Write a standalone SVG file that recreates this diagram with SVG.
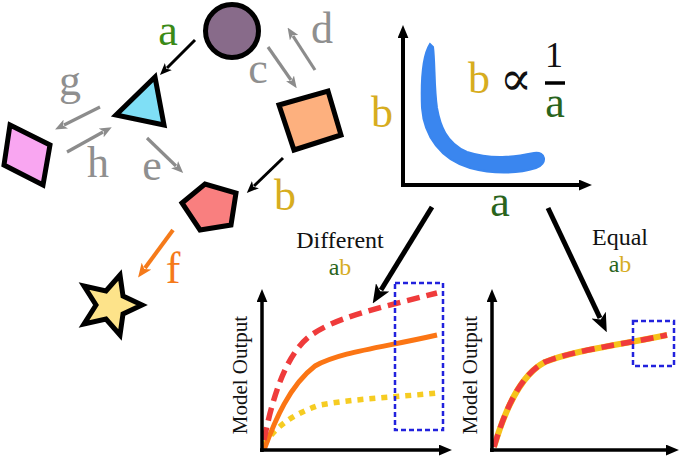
<svg xmlns="http://www.w3.org/2000/svg" width="680" height="456" viewBox="0 0 680 456">
<style>
text{font-family:'Liberation Serif',serif}
.node{stroke:#000;stroke-width:5;stroke-linejoin:miter}
.lbl{font-size:44px;text-anchor:middle}
.gray{fill:#8f8f8f}
.grn{fill:#3b8a17}
.dgrn{fill:#2a641c}
.gold{fill:#d7ad1f}
.txt{text-anchor:middle;fill:#111}
.ab{stroke:#000;stroke-width:3;fill:none}
.ag{stroke:#8c8c8c;stroke-width:3.2;fill:none}
.ax{stroke:#000;fill:none}
</style>
<defs>
<marker id="hb" viewBox="0 0 12 10" refX="2" refY="5" markerWidth="12" markerHeight="10" markerUnits="userSpaceOnUse" orient="auto"><path d="M0,0 L12,5 L0,10 L3,5 Z" fill="#000"/></marker>
<marker id="hg" viewBox="0 0 12 10" refX="2" refY="5" markerWidth="12" markerHeight="10" markerUnits="userSpaceOnUse" orient="auto"><path d="M0,0 L12,5 L0,10 L3,5 Z" fill="#8c8c8c"/></marker>
<marker id="ho" viewBox="0 0 12 10" refX="2" refY="5" markerWidth="14" markerHeight="12" markerUnits="userSpaceOnUse" orient="auto"><path d="M0,0 L12,5 L0,10 L3,5 Z" fill="#f57a1a"/></marker>
<marker id="hbig" viewBox="0 0 12 10" refX="2" refY="5" markerWidth="19" markerHeight="16" markerUnits="userSpaceOnUse" orient="auto"><path d="M0,0 L12,5 L0,10 L3,5 Z" fill="#000"/></marker>
<marker id="hax" viewBox="0 0 12 10" refX="1" refY="5" markerWidth="13" markerHeight="11" markerUnits="userSpaceOnUse" orient="auto"><path d="M0,0 L12,5 L0,10 Z" fill="#000"/></marker>
</defs>

<g id="connectors">
<line class="ab" x1="195" y1="40" x2="167" y2="68" marker-end="url(#hb)"/>
<line class="ag" x1="268" y1="47" x2="291" y2="80" marker-end="url(#hg)"/>
<line class="ag" x1="315" y1="70" x2="293" y2="36" marker-end="url(#hg)"/>
<line class="ag" x1="100" y1="107" x2="64" y2="125" marker-end="url(#hg)"/>
<line class="ag" x1="67" y1="152" x2="103" y2="132" marker-end="url(#hg)"/>
<line class="ag" x1="147" y1="138" x2="176" y2="166" marker-end="url(#hg)"/>
<line class="ab" x1="283" y1="158" x2="254" y2="186" marker-end="url(#hb)"/>
<line stroke="#f57a1a" stroke-width="4" x1="173" y1="230" x2="145" y2="268" marker-end="url(#ho)"/>
<line stroke="#000" stroke-width="5" x1="432" y1="207" x2="381" y2="290" marker-end="url(#hbig)"/>
<line stroke="#000" stroke-width="5" x1="548" y1="208" x2="600" y2="318" marker-end="url(#hbig)"/>
</g>

<g id="labels">
<text class="lbl grn" x="168" y="45">a</text>
<text class="lbl gray" x="258" y="83">c</text>
<text class="lbl gray" x="322" y="43">d</text>
<text class="lbl gray" x="70" y="95">g</text>
<text class="lbl gray" x="98" y="177">h</text>
<text class="lbl gray" x="152" y="180">e</text>
<text class="lbl gold" x="285" y="210">b</text>
<text class="lbl" x="173" y="283" fill="#f57a1a">f</text>
</g>

<g id="circle"><circle class="node" cx="232" cy="31" r="26.5" fill="#886b8a"/></g>
<g id="triangle"><polygon class="node" points="155,77 116,115 164,125" fill="#7fdff6"/></g>
<g id="square"><polygon class="node" points="279,105 328,91 341,135 294,150" fill="#fdb07e"/></g>
<g id="rhombus"><polygon class="node" points="10,125 50,145 43,185 4,165" fill="#f9a6f1"/></g>
<g id="pentagon"><polygon class="node" points="182,203 205,184 236,193 231,225 200,230" fill="#f97f7f"/></g>
<g id="star"><polygon class="node" stroke-width="5.5" stroke-linejoin="round" points="142,305 123,314 120,335 106,319 84,324 96,305 84,286 106,291 120,275 123,296" fill="#fde38a"/></g>

<g id="scatter-plot">
<path d="M430,44 C423,55 421,82 422,108 C424,136 441,160 470,168 C496,175 520,173 536,168 C548,164 546,151 534,153 C514,157 492,160 467,152 C446,143 440,125 437,108 C434,88 435,62 433,47 Z" fill="#3a86ef" stroke="#3a86ef" stroke-width="2"/>
<line class="ax" stroke-width="4" x1="403" y1="187" x2="403" y2="37" marker-end="url(#hax)"/>
<line class="ax" stroke-width="4" x1="401" y1="185" x2="580" y2="185" marker-end="url(#hax)"/>
<text class="lbl gold" x="382" y="127" font-size="46">b</text>
<text class="lbl dgrn" x="500" y="216" font-size="46">a</text>
<text class="lbl gold" x="479" y="93" font-size="36">b</text>
<text class="txt" x="516" y="95" font-size="48" style="font-family:'DejaVu Sans','DejaVu Serif',sans-serif;font-weight:200">∝</text>
<text class="txt" x="554" y="67" font-size="36">1</text>
<line x1="545" y1="83" x2="565" y2="83" stroke="#000" stroke-width="3.5"/>
<text class="lbl dgrn" x="555" y="117" font-size="40">a</text>
</g>

<g id="different-plot">
<text class="txt" x="340" y="248" font-size="24">Different</text>
<text class="txt" x="340" y="275" font-size="24"><tspan fill="#2a641c">a</tspan><tspan fill="#d7ad1f">b</tspan></text>
<path d="M264,445 C275,428 290,415 320,405 C360,398 400,397 437,393" fill="none" stroke="#f6cc22" stroke-width="5.5" stroke-dasharray="6,6"/>
<path d="M264,450 C275,420 290,385 315,366 C340,352 380,348 437,335" fill="none" stroke="#fb7514" stroke-width="5"/>
<path d="M264,440 C272,400 285,355 310,336 C335,318 370,310 437,293" fill="none" stroke="#ef3b3b" stroke-width="5.5" stroke-dasharray="13,7"/>
<rect x="395" y="283" width="48" height="147" fill="none" stroke="#2222dd" stroke-width="2.5" stroke-dasharray="5,3"/>
<line class="ax" stroke-width="3.5" x1="262" y1="452" x2="262" y2="301" marker-end="url(#hax)"/>
<line class="ax" stroke-width="3.5" x1="260" y1="450" x2="440" y2="450" marker-end="url(#hax)"/>
<text class="txt" transform="translate(247,375) rotate(-90)" font-size="21">Model Output</text>
</g>

<g id="equal-plot">
<text class="txt" x="620" y="245" font-size="24">Equal</text>
<text class="txt" x="620" y="272" font-size="24"><tspan fill="#2a641c">a</tspan><tspan fill="#d7ad1f">b</tspan></text>
<path d="M494,447 C505,410 520,375 545,362 C575,350 620,345 667,335" fill="none" stroke="#f6c21a" stroke-width="6"/>
<path d="M494,447 C505,410 520,375 545,362 C575,350 620,345 667,335" fill="none" stroke="#ef3b3b" stroke-width="5.5" stroke-dasharray="13,7"/>
<rect x="633" y="321" width="41" height="45" fill="none" stroke="#2222dd" stroke-width="2.5" stroke-dasharray="5,3"/>
<line class="ax" stroke-width="3.5" x1="492" y1="452" x2="492" y2="301" marker-end="url(#hax)"/>
<line class="ax" stroke-width="3.5" x1="490" y1="450" x2="667" y2="450" marker-end="url(#hax)"/>
<text class="txt" transform="translate(477,375) rotate(-90)" font-size="21">Model Output</text>
</g>
</svg>
